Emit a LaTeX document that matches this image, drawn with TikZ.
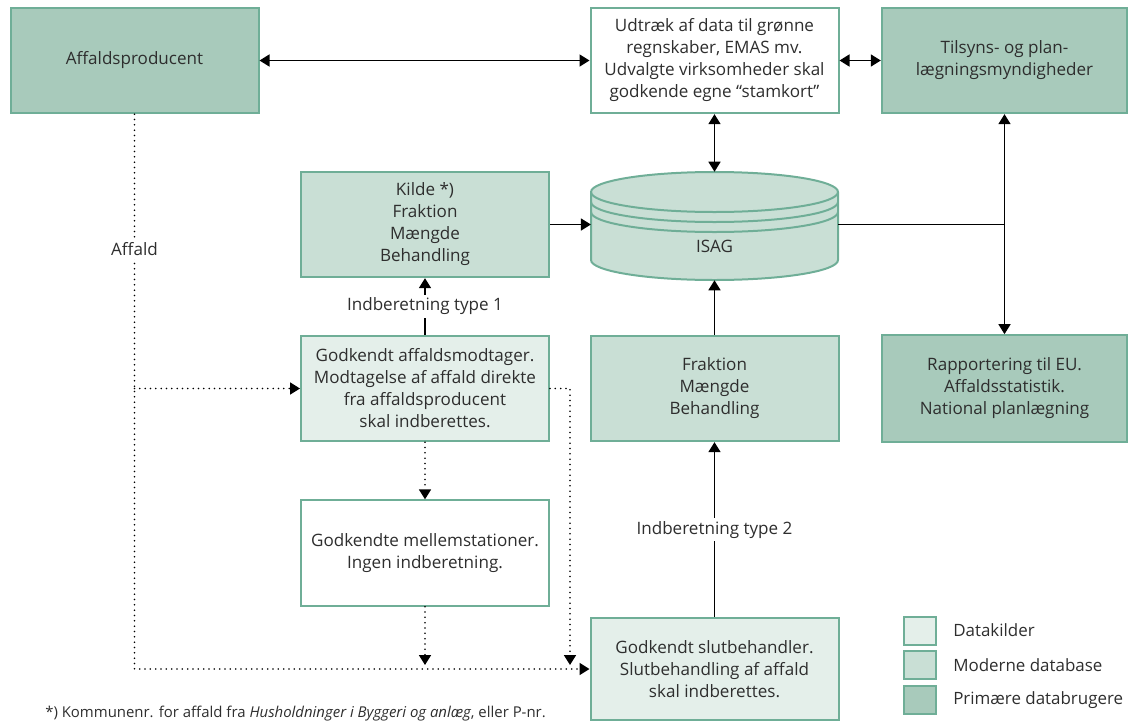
\documentclass[tikz,border=0pt]{standalone}
\usepackage{fontspec}
\setmainfont{Open Sans}
\usepackage{tikz}
\usetikzlibrary{arrows.meta,positioning}
\definecolor{ink}{HTML}{2E2E2E}
\definecolor{edge}{HTML}{6FAE97}
\definecolor{dark}{HTML}{A8CABB}
\definecolor{mid}{HTML}{C9DFD5}
\definecolor{light}{HTML}{E4EFEA}
\tikzset{
  box/.style={draw=edge, line width=1.5pt, text=ink, align=center, inner sep=0pt,
    minimum width=186pt, minimum height=79pt, font=\fontsize{12.8}{16.5}\selectfont},
  srcbox/.style={box, fill=light},
  dbbox/.style={box, fill=mid},
  userbox/.style={box, fill=dark},
  plainbox/.style={box, fill=white},
  link/.style={draw=black, line width=1.2pt, -{Triangle[length=7.5pt,width=9pt]}},
  twoway/.style={link, {Triangle[length=7.5pt,width=9pt]}-{Triangle[length=7.5pt,width=9pt]}},
  dotlink/.style={link, line cap=round, dash pattern=on 0pt off 4pt, line width=1.3pt},
  lab/.style={fill=white, text=ink, inner sep=2pt, font=\fontsize{12.8}{14}\selectfont},
  legbox/.style={draw=edge, line width=1.5pt, minimum width=24pt, minimum height=21pt},
}

\begin{document}
\begin{tikzpicture}[x=0.75pt, y=-0.75pt]
\useasboundingbox (0,0) rectangle (1128,725);

% top row
\node[userbox] (prod) at (134.5,60.5) {Affaldsproducent};
\node[plainbox] (udtraek) at (714.5,60.5) {Udtræk af data til grønne\\regnskaber, EMAS mv.\\Udvalgte virksomheder skal\\godkende egne “stamkort”};
\node[userbox, minimum width=184pt] (tilsyn) at (1004.5,60.5) {Tilsyns- og plan-\\lægningsmyndigheder};

% database
\fill[mid] (591,192) -- (591,260) arc[start angle=180, end angle=360, x radius=92.625pt, y radius=15pt]
  -- (838,192) arc[start angle=0, end angle=180, x radius=92.625pt, y radius=15pt] -- cycle;
\draw[edge, line width=1.5pt] (591,192) -- (591,260) arc[start angle=180, end angle=360, x radius=92.625pt, y radius=15pt]
  -- (838,192) arc[start angle=0, end angle=180, x radius=92.625pt, y radius=15pt];
\foreach \y in {192,202,212}
  \draw[edge, line width=1.5pt] (591,\y) arc[start angle=180, end angle=360, x radius=92.625pt, y radius=15pt];
\node[text=ink, inner sep=0pt, minimum width=185pt, minimum height=81pt, font=\fontsize{12.8}{16.5}\selectfont] (isag) at (714.5,226) {\raisebox{-20pt}[0pt][0pt]{ISAG}};

\node[dbbox] (kilde) at (425,224.5) {Kilde *)\\Fraktion\\Mængde\\Behandling};

% middle row
\node[srcbox] (modtager) at (425,388.5) {Godkendt affaldsmodtager.\\Modtagelse af affald direkte\\fra affaldsproducent\\skal indberettes.};
\node[dbbox] (fraktion) at (714.5,388.5) {Fraktion\\Mængde\\Behandling};
\node[userbox, minimum width=184pt, minimum height=80pt] (rapport) at (1004.5,388.5) {Rapportering til EU.\\Affaldsstatistik.\\National planlægning};

% bottom row
\node[plainbox] (mellem) at (425,553) {Godkendte mellemstationer.\\Ingen indberetning.};
\node[srcbox, minimum height=76.5pt] (slut) at (714.5,669) {Godkendt slutbehandler.\\Slutbehandling af affald\\skal indberettes.};

% solid connectors
\draw[twoway] (prod) -- (udtraek);
\draw[twoway] (udtraek) -- (tilsyn);
\draw[twoway] (udtraek) -- (isag);
\draw[link] (kilde.east) -- (kilde.east -| isag.west);
\draw[link] (fraktion) -- (isag);
\coordinate (knee) at (tilsyn.south |- kilde.east);
\draw[draw=black, line width=1.2pt] (kilde.east -| isag.east) -- (knee);
\draw[twoway] (tilsyn) -- (rapport);
\draw[link] (modtager) -- node[lab] {Indberetning type 1} (kilde);
\draw[link] (slut) -- node[lab] {Indberetning type 2} (fraktion);

% dotted waste flow
\coordinate (low) at (prod.south |- slut.west);
\coordinate (side) at (570,388.5);
\draw[dotlink] (prod.south) -- node[lab, pos=0.244] {Affald} (low) -- (slut.west);
\draw[dotlink] (prod.south |- modtager.west) -- (modtager.west);
\draw[dotlink] (modtager) -- (mellem);
\draw[dotlink] (mellem.south) -- ([yshift=3pt]mellem.south |- low);
\draw[dotlink] (modtager.east) -- (side) -- ([yshift=3pt]side |- low);

% legend
\node[legbox, fill=light] (k1) at (920,630.5) {};
\node[legbox, fill=mid] (k2) at (920,665) {};
\node[legbox, fill=dark] (k3) at (920,700) {};
\foreach \k/\t in {k1/Datakilder, k2/Moderne database, k3/Primære databrugere}
  \node[right=12pt of \k, inner sep=0pt, text=ink, font=\fontsize{12.7}{14}\selectfont] {\t};

% footnote
\node[anchor=west, inner sep=0pt, text=ink, font=\fontsize{11.2}{13}\selectfont] (note) at (45,714)
  {*) Kommunenr. for affald fra \textit{Husholdninger i Byggeri og anlæg}, eller P-nr.};
\end{tikzpicture}
\end{document}
